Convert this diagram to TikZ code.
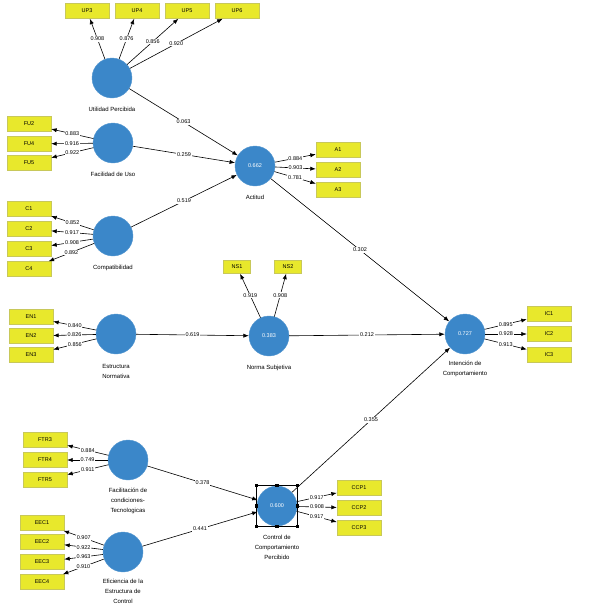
\documentclass[tikz,border=0pt]{standalone}
\usepackage{fontspec}
\setsansfont{Liberation Sans}
\usetikzlibrary{positioning, arrows.meta}

\definecolor{lvblue}{RGB}{59,135,201}
\definecolor{indfill}{RGB}{232,232,44}
\definecolor{inddraw}{RGB}{200,200,90}

\begin{document}
\begin{tikzpicture}[
  x=1pt, y=-1pt,
  font=\sffamily\fontsize{5.5}{6.5}\selectfont,
  >={Latex[length=5.5pt,width=4.2pt]},
  %% Node styles
  latent/.style={
    circle, fill=lvblue, draw=lvblue!85!white,
    minimum size=40pt, inner sep=0pt, text=white
  },
  ind/.style={
    draw=inddraw, fill=indfill, thin,
    minimum width=44pt, minimum height=15pt, inner sep=0pt
  },
  indsmall/.style={ind, minimum width=27pt, minimum height=13pt},
  lvname/.style={
    align=center, inner sep=1pt,
    font=\sffamily\fontsize{6}{10}\selectfont
  },
  coef/.style={fill=white, inner sep=0.8pt},
  handle/.style={fill=black, minimum size=3.2pt, inner sep=0pt},
  %% Edge style
  link/.style={->, draw=black, line width=0.6pt},
]
\useasboundingbox (0,0) rectangle (599,614);

%% -- LATENT VARIABLES --------------------------------------------------------
\node[latent] (up)  at (112, 78) {};
\node[latent] (fu)  at (113,143) {};
\node[latent] (co)  at (113,236) {};
\node[latent] (act) at (255,166) {0.662};
\node[latent] (en)  at (116,334) {};
\node[latent] (ns)  at (269,336) {0.383};
\node[latent] (ic)  at (465,334) {0.727};
\node[latent] (ftr) at (128,460) {};
\node[latent] (eec) at (123,552) {};
\node[latent] (ccp) at (277,506) {0.600};

%% names below the circles
\node[lvname, below=8pt of up]  (upname)  {Utilidad Percibida};
\node[lvname, below=8pt of fu]  (funame)  {Facilidad de Uso};
\node[lvname, below=8pt of co]  (coname)  {Compatibilidad};
\node[lvname, below=8pt of act] (actname) {Actitud};
\node[lvname, below=9pt of en]  (enname)  {Estructura\\Normativa};
\node[lvname, below=8pt of ns]  (nsname)  {Norma Subjetiva};
\node[lvname, below=6pt of ic]  (icname)  {Intención de\\Comportamiento};
\node[lvname, below=7pt of ftr] (ftrname) {Facilitación de\\condiciones-\\Tecnologicas};
\node[lvname, below=6pt of eec] (eecname) {Eficiencia de la\\Estructura de\\Control};
\node[lvname, below=8pt of ccp] (ccpname) {Control de\\Comportamiento\\Percibido};

%% selection frame on Control de Comportamiento
\node[draw=black, thin, minimum size=41pt, inner sep=0pt] (sel) at (ccp) {};
\foreach \an in {north west, north, north east, west, east, south west, south, south east}
  \node[handle] at (sel.\an) {};

%% -- INDICATORS --------------------------------------------------------------
\foreach \n/\x in {3/87, 4/137, 5/187, 6/237}
  \node[ind] (up\n) at (\x,11) {UP\n};
\foreach \n/\y in {2/124, 4/144, 5/163}
  \node[ind] (fu\n) at (29,\y) {FU\n};
\foreach \n/\y in {1/209, 2/229, 3/249, 4/269}
  \node[ind] (co\n) at (29,\y) {C\n};
\foreach \n/\y in {1/150, 2/170, 3/190}
  \node[ind] (act\n) at (338,\y) {A\n};
\foreach \n/\x in {1/237, 2/288}
  \node[indsmall] (ns\n) at (\x,267) {NS\n};
\foreach \n/\y in {1/317, 2/336, 3/355}
  \node[ind] (en\n) at (31,\y) {EN\n};
\foreach \n/\y in {1/314, 2/334, 3/355}
  \node[ind] (ic\n) at (549,\y) {IC\n};
\foreach \n/\y in {3/440, 4/460, 5/480}
  \node[ind] (ftr\n) at (45,\y) {FTR\n};
\foreach \n/\y in {1/523, 2/542, 3/562, 4/582}
  \node[ind] (eec\n) at (42,\y) {EEC\n};
\foreach \n/\y in {1/488, 2/508, 3/528}
  \node[ind] (ccp\n) at (359,\y) {CCP\n};

%% -- OUTER LOADINGS ----------------------------------------------------------
\foreach \n/\v in {3/0.908, 4/0.876, 5/0.856, 6/0.920}
  \draw[link] (up) -- node[coef] {\v} (up\n);
\foreach \n/\v in {2/0.883, 4/0.916, 5/0.922}
  \draw[link] (fu) -- node[coef] {\v} (fu\n);
\foreach \n/\v in {1/0.852, 2/0.917, 3/0.908, 4/0.892}
  \draw[link] (co) -- node[coef] {\v} (co\n);
\foreach \n/\v in {1/0.884, 2/0.903, 3/0.781}
  \draw[link] (act) -- node[coef] {\v} (act\n);
\foreach \n/\v in {1/0.919, 2/0.908}
  \draw[link] (ns) -- node[coef] {\v} (ns\n);
\foreach \n/\v in {1/0.840, 2/0.826, 3/0.856}
  \draw[link] (en) -- node[coef] {\v} (en\n);
\foreach \n/\v in {1/0.895, 2/0.928, 3/0.913}
  \draw[link] (ic) -- node[coef] {\v} (ic\n);
\foreach \n/\v in {3/0.884, 4/0.749, 5/0.911}
  \draw[link] (ftr) -- node[coef] {\v} (ftr\n);
\foreach \n/\v in {1/0.907, 2/0.922, 3/0.963, 4/0.910}
  \draw[link] (eec) -- node[coef] {\v} (eec\n);
\foreach \n/\v in {1/0.917, 2/0.908, 3/0.917}
  \draw[link] (ccp) -- node[coef] {\v} (ccp\n);

%% -- PATH COEFFICIENTS -------------------------------------------------------
\draw[link] (up)  -- node[coef] {0.063} (act);
\draw[link] (fu)  -- node[coef] {0.259} (act);
\draw[link] (co)  -- node[coef] {0.519} (act);
\draw[link] (act) -- node[coef] {0.302} (ic);
\draw[link] (en)  -- node[coef] {0.619} (ns);
\draw[link] (ns)  -- node[coef] {0.212} (ic);
\draw[link] (ftr) -- node[coef] {0.378} (ccp);
\draw[link] (eec) -- node[coef] {0.441} (ccp);
\draw[link] (ccp) -- node[coef] {0.355} (ic);

\end{tikzpicture}
\end{document}
